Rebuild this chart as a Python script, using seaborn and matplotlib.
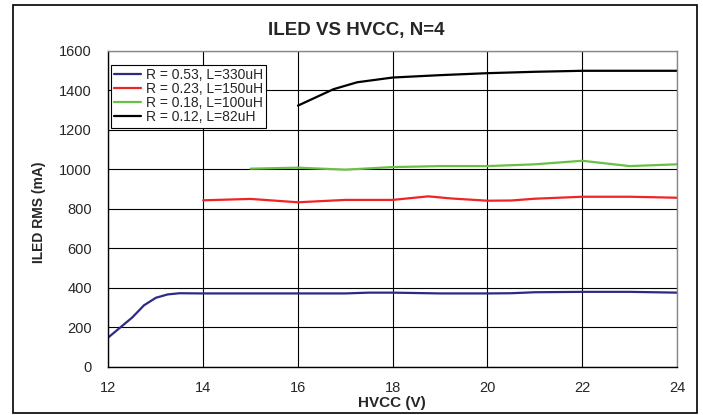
import matplotlib
matplotlib.use("Agg")
import matplotlib.pyplot as plt
from matplotlib.patches import Rectangle
import pandas as pd
import seaborn as sns

# Measured RMS LED current versus supply voltage for four inductor/sense-resistor choices
labels = ["R = 0.53, L=330uH", "R = 0.23, L=150uH", "R = 0.18, L=100uH", "R = 0.12, L=82uH"]

hvcc_053 = [12, 12.5, 12.75, 13, 13.25, 13.5, 14, 15, 16, 17, 17.5, 18, 19, 20, 20.5, 21, 22, 23, 24]
iled_053 = [150, 250, 312, 350, 367, 373, 372, 372, 372, 372, 376, 376, 372, 372, 373, 378, 380, 380, 376]

hvcc_023 = [14, 15, 16, 17, 18, 18.75, 19.25, 20, 20.5, 21, 22, 23, 24]
iled_023 = [843, 850, 833, 845, 845, 863, 852, 841, 842, 851, 861, 861, 856]

hvcc_018 = [15, 16, 17, 18, 19, 20, 21, 22, 23, 24]
iled_018 = [1003, 1008, 998, 1011, 1016, 1016, 1025, 1043, 1016, 1025]

hvcc_012 = [16, 16.75, 17.25, 18, 19, 20, 21, 22, 23, 24]
iled_012 = [1322, 1405, 1440, 1464, 1476, 1486, 1493, 1498, 1498, 1498]

colors = ["#2b2b85", "#f02424", "#6abf45", "#000000"]

frames = []
for lab, xs, ys in zip(labels,
                       [hvcc_053, hvcc_023, hvcc_018, hvcc_012],
                       [iled_053, iled_023, iled_018, iled_012]):
    frames.append(pd.DataFrame({"HVCC": xs, "ILED": ys, "series": lab}))
df = pd.concat(frames, ignore_index=True)

sns.set_style("white")
plt.rcParams["font.family"] = ["Liberation Sans", "DejaVu Sans"]

fig = plt.figure(figsize=(7.03, 4.15), dpi=100)
ax = fig.add_axes([0.1543, 0.1157, 0.8087, 0.7623])

sns.lineplot(data=df, x="HVCC", y="ILED", hue="series", hue_order=labels,
             palette=colors, linewidth=1.6, sort=False, estimator=None, ax=ax)

ax.set_xlim(12, 24)
ax.set_ylim(0, 1600)
ax.set_xticks(range(12, 25, 2))
ax.set_yticks(range(0, 1601, 200))
ax.grid(True, color="black", linewidth=0.8)
ax.set_axisbelow(True)

for side in ["top", "right"]:
    ax.spines[side].set_visible(True)
    ax.spines[side].set_color("#888888")
    ax.spines[side].set_linewidth(1.0)
for side in ["left", "bottom"]:
    ax.spines[side].set_color("black")
    ax.spines[side].set_linewidth(1.0)

ax.tick_params(axis="both", which="major", labelsize=10.5, length=4,
               width=0.8, color="black", direction="out")
ax.tick_params(axis="x", pad=6)
ax.tick_params(axis="y", pad=8)

ax.set_xlabel("")
ax.set_ylabel("")
fig.text(0.557, 0.029, "HVCC (V)", ha="center", va="center",
         fontsize=11, fontweight="bold")
fig.text(0.055, 0.488, "ILED RMS (mA)", ha="center", va="center",
         rotation=90, fontsize=10, fontweight="bold")
fig.text(0.507, 0.926, "ILED VS HVCC, N=4", ha="center", va="center",
         fontsize=13.5, fontweight="bold")

leg = ax.legend(loc="upper left", bbox_to_anchor=(0.0044, 0.955), fontsize=10,
                frameon=True, fancybox=False, handlelength=1.9,
                handletextpad=0.35, borderpad=0.25, labelspacing=0.0,
                borderaxespad=0.0)
leg.get_frame().set_edgecolor("black")
leg.get_frame().set_linewidth(0.8)
leg.get_frame().set_facecolor("white")
leg.get_frame().set_alpha(1.0)

# Outer chart frame
fig.patches.append(Rectangle((0.0192, 0.005), 0.9722, 0.983,
                             transform=fig.transFigure, fill=False,
                             edgecolor="black", linewidth=1.2))

fig.savefig("out.png", dpi=100)
